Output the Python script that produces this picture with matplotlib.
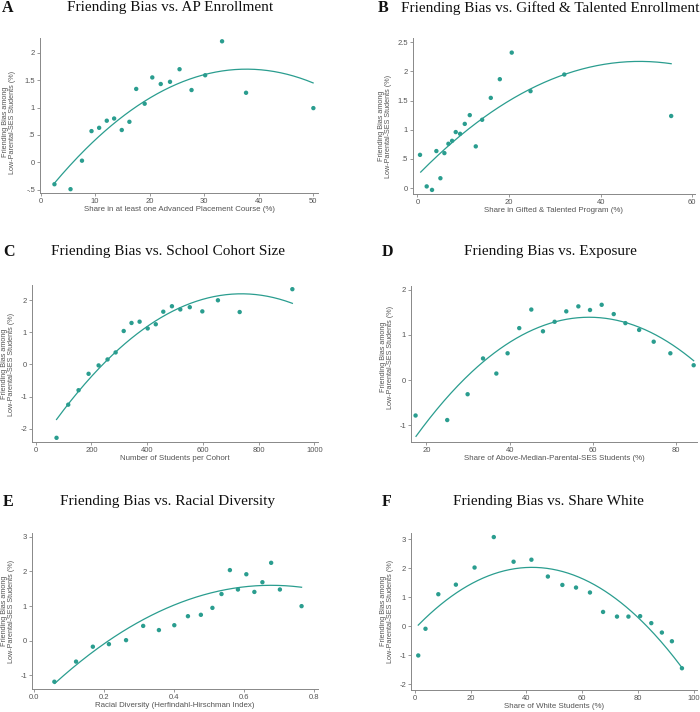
import numpy as np
import matplotlib
matplotlib.use("Agg")
import matplotlib.pyplot as plt

plt.rcParams['font.family'] = ['Liberation Sans', 'DejaVu Sans']

teal = '#2a9d8f'
grey = '#555555'

# ---- panel A: AP enrollment
a_x = [2.55, 5.5, 7.6, 9.35, 10.75, 12.15, 13.5, 14.9, 16.3, 17.55,
       19.1, 20.5, 22.05, 23.75, 25.5, 27.7, 30.2, 33.3, 37.7, 50.05]
a_y = [-0.40, -0.49, 0.03, 0.57, 0.63, 0.76, 0.80, 0.59, 0.74, 1.34,
       1.07, 1.55, 1.43, 1.47, 1.70, 1.32, 1.59, 2.21, 1.27, 0.99]
a_fit_x = [2.55, 30, 50]
a_fit_y = [-0.38, 1.60, 1.45]

# ---- panel B: gifted & talented
b_x = [0.58, 2.04, 3.2, 4.15, 5.03, 5.9, 6.78, 7.58, 8.38, 9.33,
       10.35, 11.44, 12.75, 14.14, 16.03, 18.0, 20.6, 24.7, 32.07, 55.4]
b_y = [0.57, 0.03, -0.03, 0.635, 0.17, 0.60, 0.76, 0.81, 0.96, 0.93,
       1.10, 1.25, 0.715, 1.17, 1.545, 1.865, 2.32, 1.66, 1.945, 1.235]
b_fit_x = [0.73, 32.07, 55.4]
b_fit_y = [0.275, 1.945, 2.13]

# ---- panel C: cohort size
c_x = [75, 117, 154, 190, 226, 258, 287, 316, 344, 373,
       402, 431, 458, 489, 519, 553, 598, 654, 732, 921]
c_y = [-2.28, -1.25, -0.80, -0.29, -0.03, 0.156, 0.374, 1.04, 1.29, 1.33,
       1.12, 1.25, 1.64, 1.81, 1.71, 1.78, 1.65, 1.995, 1.63, 2.34]
c_fit_x = [75, 400, 921]
c_fit_y = [-1.71, 1.18, 1.90]

# ---- panel D: exposure
d_x = [17.4, 25.0, 29.9, 33.6, 36.8, 39.5, 42.3, 45.2, 48.0, 50.8,
       53.6, 56.5, 59.3, 62.1, 65.0, 67.8, 71.1, 74.6, 78.6, 84.2]
d_y = [-0.78, -0.88, -0.31, 0.48, 0.147, 0.594, 1.15, 1.56, 1.08, 1.29,
       1.52, 1.63, 1.55, 1.665, 1.46, 1.26, 1.11, 0.85, 0.594, 0.33]
d_fit_x = [17.5, 59, 84.2]
d_fit_y = [-1.24, 1.39, 0.43]

# ---- panel E: racial diversity
e_x = [0.058, 0.120, 0.168, 0.214, 0.263, 0.312, 0.357, 0.401, 0.440, 0.477,
       0.510, 0.536, 0.560, 0.583, 0.607, 0.630, 0.653, 0.678, 0.703, 0.765]
e_y = [-1.18, -0.60, -0.17, -0.096, 0.019, 0.43, 0.31, 0.45, 0.71, 0.75,
       0.95, 1.35, 2.04, 1.48, 1.92, 1.41, 1.69, 2.25, 1.48, 1.0]
e_fit_x = [0.059, 0.4, 0.765]
e_fit_y = [-1.23, 1.03, 1.545]

# ---- panel F: share white
f_x = [1.2, 3.8, 8.4, 14.7, 21.4, 28.3, 35.4, 41.8, 47.7, 52.9,
       57.8, 62.8, 67.5, 72.5, 76.6, 80.8, 84.8, 88.6, 92.2, 95.8]
f_y = [-1.0, -0.08, 1.11, 1.44, 2.03, 3.08, 2.23, 2.30, 1.72, 1.43,
       1.34, 1.17, 0.50, 0.34, 0.34, 0.355, 0.114, -0.21, -0.51, -1.44]
f_fit_x = [1.2, 39.8, 95.8]
f_fit_y = [0.046, 2.03, -1.42]

titles = ['Friending Bias vs. AP Enrollment',
          'Friending Bias vs. Gifted & Talented Enrollment',
          'Friending Bias vs. School Cohort Size',
          'Friending Bias vs. Exposure',
          'Friending Bias vs. Racial Diversity',
          'Friending Bias vs. Share White']
letters = ['A', 'B', 'C', 'D', 'E', 'F']
xlabels = ['Share in at least one Advanced Placement Course (%)',
           'Share in Gifted & Talented Program (%)',
           'Number of Students per Cohort',
           'Share of Above-Median-Parental-SES Students (%)',
           'Racial Diversity (Herfindahl-Hirschman Index)',
           'Share of White Students (%)']
ylabel = 'Friending Bias among\nLow-Parental-SES Students (%)'

xticks = [[0, 10, 20, 30, 40, 50], [0, 20, 40, 60], [0, 200, 400, 600, 800, 1000],
          [20, 40, 60, 80], [0.0, 0.2, 0.4, 0.6, 0.8], [0, 20, 40, 60, 80, 100]]
xticklabels = [['0', '10', '20', '30', '40', '50'], ['0', '20', '40', '60'],
               ['0', '200', '400', '600', '800', '1000'], ['20', '40', '60', '80'],
               ['0.0', '0.2', '0.4', '0.6', '0.8'], ['0', '20', '40', '60', '80', '100']]
yticks = [[-0.5, 0, 0.5, 1, 1.5, 2], [0, 0.5, 1, 1.5, 2, 2.5], [-2, -1, 0, 1, 2],
          [-1, 0, 1, 2], [-1, 0, 1, 2, 3], [-2, -1, 0, 1, 2, 3]]
yticklabels = [['-.5', '0', '.5', '1', '1.5', '2'], ['0', '.5', '1', '1.5', '2', '2.5'],
               ['-2', '-1', '0', '1', '2'], ['-1', '0', '1', '2'],
               ['-1', '0', '1', '2', '3'], ['-2', '-1', '0', '1', '2', '3']]

xs = [a_x, b_x, c_x, d_x, e_x, f_x]
ys = [a_y, b_y, c_y, d_y, e_y, f_y]
fit_xs = [a_fit_x, b_fit_x, c_fit_x, d_fit_x, e_fit_x, f_fit_x]
fit_ys = [a_fit_y, b_fit_y, c_fit_y, d_fit_y, e_fit_y, f_fit_y]

# layout in pixels: left, right, top, bottom of plot region
W, H = 700, 712
boxes = [(40, 318, 38, 193), (413, 695, 38, 194), (32, 318, 285, 442),
         (411, 697, 286, 442), (32, 318, 533, 689), (411, 697, 533, 690)]
xlims = [(-0.1, 50.9), (-0.95, 60.6), (-13, 1013), (16.3, 85), (-0.006, 0.812), (-1.4, 101.2)]
ylims = [(-0.56, 2.27), (-0.10, 2.57), (-2.41, 2.47), (-1.365, 2.08), (-1.39, 3.11), (-2.19, 3.22)]
# title centre x / y, letter x, ylabel x / y (pixels)
title_pos = [(170, 8), (550, 8), (168, 252), (550, 252), (168, 502), (548, 502)]
letter_x = [2, 378, 3, 382, 3, 382]
ylab_pos = [(9, 122), (385, 126), (8, 364), (387, 357), (8, 611), (387, 611)]

fig = plt.figure(figsize=(W / 100, H / 100), dpi=100)
fig.patch.set_facecolor('white')

for i in range(6):
    l, r, t, b = boxes[i]
    ax = fig.add_axes([l / W, 1 - b / H, (r - l) / W, (b - t) / H])
    ax.scatter(xs[i], ys[i], s=10, color=teal, edgecolors='none', zorder=3)
    coef = np.polyfit(fit_xs[i], fit_ys[i], 2)
    gx = np.linspace(min(fit_xs[i]), max(fit_xs[i]), 200)
    ax.plot(gx, np.polyval(coef, gx), color=teal, lw=0.9)
    ax.set_xlim(xlims[i])
    ax.set_ylim(ylims[i])
    ax.set_xticks(xticks[i])
    ax.set_xticklabels(xticklabels[i])
    ax.set_yticks(yticks[i])
    ax.set_yticklabels(yticklabels[i])
    for s in ['top', 'right']:
        ax.spines[s].set_visible(False)
    for s in ['left', 'bottom']:
        ax.spines[s].set_color('#888888')
        ax.spines[s].set_linewidth(0.7)
    ax.tick_params(length=2, width=0.6, color='#888888', labelsize=5.5,
                   labelcolor=grey, pad=1.5)
    ax.set_xlabel(xlabels[i], fontsize=5.7, color=grey, labelpad=1)

    tx, ty = title_pos[i]
    fig.text(tx / W, 1 - ty / H, titles[i], ha='center', va='center',
             family='Liberation Serif', fontsize=11, color='#111111')
    fig.text(letter_x[i] / W, 1 - ty / H, letters[i], ha='left', va='center',
             family='Liberation Serif', fontsize=11.5, fontweight='bold', color='#111111')
    lx, ly = ylab_pos[i]
    fig.text(lx / W, 1 - ly / H, ylabel, rotation=90, ha='center', va='center',
             fontsize=5.2, color=grey, linespacing=0.95, multialignment='center')

fig.savefig('out.png', dpi=100)
